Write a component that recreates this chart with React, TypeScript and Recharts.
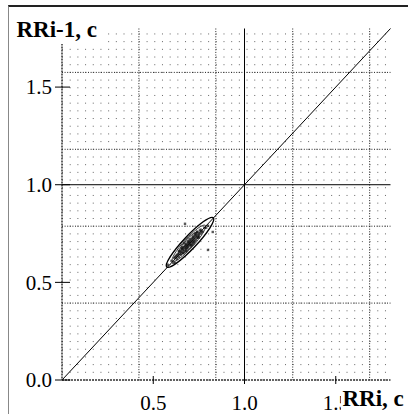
import React from "react";
import {
  ScatterChart,
  Scatter,
  XAxis,
  YAxis,
  CartesianGrid,
  ReferenceLine,
  ReferenceArea,
} from "recharts";

// RR intervals (s): RRi on x, RRi-1 on y
const rrI = [
  0.6, 0.61, 0.62, 0.63, 0.63, 0.64, 0.64, 0.65, 0.65, 0.66, 0.66, 0.67, 0.67,
  0.68, 0.68, 0.69, 0.69, 0.7, 0.7, 0.71, 0.71, 0.72, 0.72, 0.73, 0.73, 0.74,
  0.74, 0.75, 0.76, 0.76, 0.77, 0.78, 0.79, 0.8, 0.66, 0.68, 0.7, 0.72, 0.69,
  0.71, 0.674, 0.8, 0.826, 0.58, 0.67, 0.73, 0.75, 0.62,
  0.655, 0.665, 0.675, 0.685, 0.695, 0.705, 0.715, 0.725, 0.735, 0.745, 0.645,
  0.635, 0.69, 0.7, 0.71, 0.68, 0.72, 0.66, 0.74, 0.755, 0.765, 0.625, 0.615,
];
const rrPrev = [
  0.61, 0.6, 0.63, 0.62, 0.64, 0.63, 0.66, 0.64, 0.66, 0.65, 0.67, 0.66, 0.68,
  0.67, 0.69, 0.68, 0.7, 0.69, 0.71, 0.7, 0.72, 0.71, 0.73, 0.72, 0.74, 0.73,
  0.76, 0.74, 0.75, 0.77, 0.76, 0.78, 0.78, 0.79, 0.68, 0.66, 0.72, 0.7, 0.71,
  0.69, 0.8, 0.666, 0.758, 0.59, 0.7, 0.75, 0.73, 0.6,
  0.67, 0.65, 0.685, 0.675, 0.705, 0.69, 0.725, 0.71, 0.745, 0.73, 0.655,
  0.645, 0.69, 0.7, 0.71, 0.695, 0.735, 0.675, 0.755, 0.765, 0.76, 0.635, 0.625,
];

const xTicks = [0.5, 1.0, 1.5];
const yTicks = [0.0, 0.5, 1.0, 1.5];
const axisMax = 1.8;

// paper grid steps (data units)
const xMinorStep = 0.04214;
const yMinorStep = 0.03938;

// scatter ellipses (bounding extents along the identity line) and their width ratio
const outerEllipse = { x1: 0.574, x2: 0.829, y1: 0.579, y2: 0.831, ratio: 0.19 };
const innerEllipse = { x1: 0.605, x2: 0.785, y1: 0.608, y2: 0.792, ratio: 0.2 };
const coreEllipse = { x1: 0.64, x2: 0.75, y1: 0.643, y2: 0.757, ratio: 0.28 };

const data = rrI.map((x, i) => ({ x, y: rrPrev[i] }));

const yMinor = Array.from({ length: Math.floor(axisMax / yMinorStep) + 1 }, (_, k) => +(k * yMinorStep).toFixed(5));
const yMajor = [1, 2, 3, 4].map((k) => +(k * 10 * yMinorStep).toFixed(5));
const xMajor = [1, 2, 3, 4].map((k) => +(k * 10 * xMinorStep).toFixed(5));

const FONT = '"Liberation Serif", "Times New Roman", Times, serif';

const EllipseShape = (ratio: number, stroke: string, sw: number, fill = "none") => (props: any) => {
  const { x, y, width, height } = props;
  const cx = x + width / 2;
  const cy = y + height / 2;
  const len = Math.sqrt(width * width + height * height);
  const ang = (-Math.atan2(height, width) * 180) / Math.PI;
  return (
    <ellipse
      cx={cx}
      cy={cy}
      rx={len / 2}
      ry={(len / 2) * ratio}
      transform={`rotate(${ang} ${cx} ${cy})`}
      fill={fill}
      fillOpacity={0.35}
      stroke={stroke}
      strokeWidth={sw}
    />
  );
};

const YTick = (props: any) => {
  const { x, y, payload } = props;
  return (
    <g>
      <line x1={x + 3} x2={x + 18} y1={y} y2={y} stroke="#000" strokeWidth={1} />
      <text x={x} y={y} dy="0.34em" textAnchor="end" fontFamily={FONT} fontSize={21} fill="#000">
        {payload.value.toFixed(1)}
      </text>
    </g>
  );
};

const XTick = (props: any) => {
  const { x, y, payload } = props;
  return (
    <g>
      <line x1={x} x2={x} y1={y - 20} y2={y - 12} stroke="#000" strokeWidth={1} />
      <text x={x} y={y + 14} textAnchor="middle" fontFamily={FONT} fontSize={21} fill="#000">
        {payload.value.toFixed(1)}
      </text>
    </g>
  );
};

const Dot = (props: any) => {
  const { cx, cy } = props;
  return <rect x={cx - 1.2} y={cy - 1.2} width={2.4} height={2.4} fill="#111" fillOpacity={0.7} />;
};

export default function App() {
  return (
    <div style={{ position: "absolute", left: 0, top: 0, width: 408, height: 414, background: "#fff", overflow: "hidden" }}>
      <div style={{ position: "absolute", left: 8, top: 5, width: 400, height: 409, borderLeft: "1.5px solid #888", borderTop: "2px solid #222" }} />
      <div style={{ position: "absolute", left: 0, top: 0 }}>
        <ScatterChart width={408} height={414} margin={{ top: 28.5, right: 17.5, left: 0, bottom: 0 }}>
          <CartesianGrid
            horizontal
            vertical={false}
            horizontalValues={yMinor}
            stroke="#666"
            strokeDasharray={`1 ${(xMinorStep * 182.5 - 1).toFixed(2)}`}
          />
          <CartesianGrid
            horizontal
            vertical
            horizontalValues={yMajor}
            verticalValues={xMajor}
            stroke="#222"
            strokeDasharray="1 1.6"
          />
          <XAxis
            type="number"
            dataKey="x"
            domain={[0, axisMax]}
            ticks={xTicks}
            height={34}
            tickSize={8}
            tickMargin={8}
            tickLine={false}
            tick={<XTick />}
            axisLine={{ stroke: "#333", strokeWidth: 1.5, strokeDasharray: "2 1" }}
            interval={0}
          />
          <YAxis
            type="number"
            dataKey="y"
            domain={[0, axisMax]}
            ticks={yTicks}
            width={62}
            tickSize={7}
            tickMargin={3}
            tickLine={false}
            tick={<YTick />}
            axisLine={{ stroke: "#333", strokeWidth: 1.5, strokeDasharray: "2 1" }}
            interval={0}
          />
          <ReferenceLine x={1.0} stroke="#000" strokeWidth={1} />
          <ReferenceLine y={1.0} stroke="#000" strokeWidth={1} />
          <ReferenceLine
            segment={[
              { x: 0, y: 0 },
              { x: axisMax, y: axisMax },
            ]}
            stroke="#000"
            strokeWidth={1}
          />
          <ReferenceArea
            x1={coreEllipse.x1}
            x2={coreEllipse.x2}
            y1={coreEllipse.y1}
            y2={coreEllipse.y2}
            shape={EllipseShape(coreEllipse.ratio, "#222", 0.8, "#333")}
          />
          <ReferenceArea
            x1={innerEllipse.x1}
            x2={innerEllipse.x2}
            y1={innerEllipse.y1}
            y2={innerEllipse.y2}
            shape={EllipseShape(innerEllipse.ratio, "#333", 0.9)}
          />
          <ReferenceArea
            x1={outerEllipse.x1}
            x2={outerEllipse.x2}
            y1={outerEllipse.y1}
            y2={outerEllipse.y2}
            shape={EllipseShape(outerEllipse.ratio, "#000", 1.4)}
          />
          <Scatter data={data} shape={<Dot />} isAnimationActive={false} />
        </ScatterChart>
      </div>
      <svg width={408} height={414} style={{ position: "absolute", left: 0, top: 0, pointerEvents: "none" }}>
        <rect x={13} y={17} width={90} height={27} fill="#fff" />
        <text x={16.5} y={36.7} fontFamily={FONT} fontWeight="bold" fontSize={23} fill="#000">
          RRi-1, c
        </text>
        <rect x={341} y={385} width={67} height={29} fill="#fff" />
        <text x={342.5} y={406} fontFamily={FONT} fontWeight="bold" fontSize={23} fill="#000">
          RRi, c
        </text>
      </svg>
    </div>
  );
}
